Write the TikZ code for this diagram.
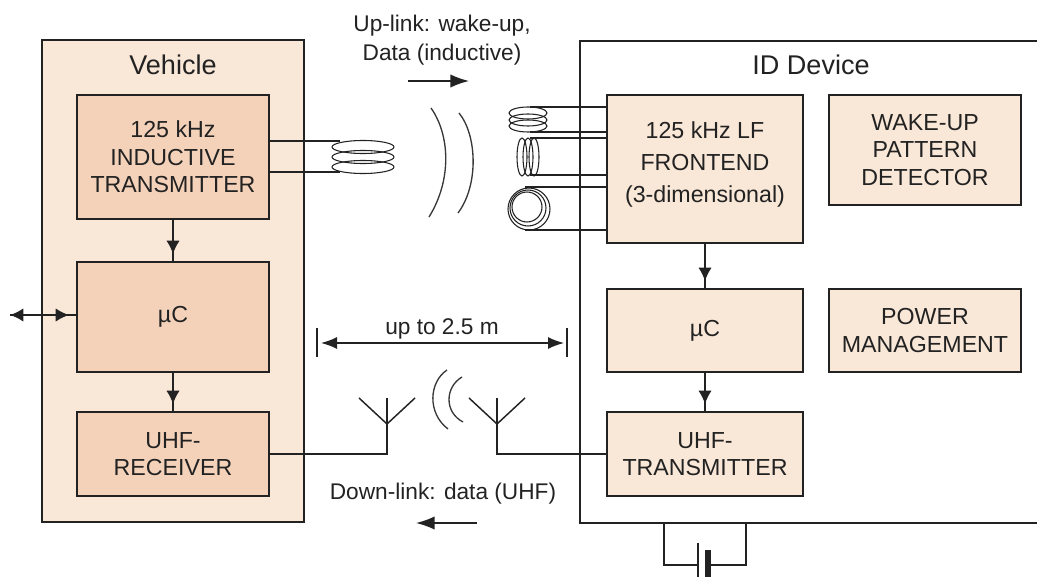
\documentclass[tikz,border=0pt]{standalone}
\usepackage{fontspec}
\setmainfont{Liberation Sans}
\usetikzlibrary{arrows.meta}
\definecolor{pale}{HTML}{F9E7D7}
\definecolor{deep}{HTML}{F4D2BA}
\definecolor{ink}{HTML}{222222}
\tikzset{
  x=0.75pt,y=-0.75pt,
  panel/.style={draw=ink,line width=1.3pt},
  blocksize/.style 2 args={minimum width=#1*0.75pt,minimum height=#2*0.75pt},
  blockdeep/.style={draw=ink,fill=deep,line width=1.3pt,anchor=north west,inner sep=0pt,outer sep=0pt,align=center,text=ink,font=\fontsize{17.4}{20.5}\selectfont},
  blockpale/.style={draw=ink,fill=pale,line width=1.3pt,anchor=north west,inner sep=0pt,outer sep=0pt,align=center,text=ink,font=\fontsize{17.4}{20.5}\selectfont},
  wire/.style={draw=ink,line width=1.1pt},
  flow/.style={wire,postaction={draw=ink,-{Latex[length=10pt,width=10pt]},shorten >=6pt}},
  bigflow/.style={wire,-{Latex[length=14pt,width=10pt]}},
  coil/.style={draw=ink,line width=0.8pt},
  wave/.style={draw=ink!90,line width=1pt},
  label/.style={text=ink,align=center,font=\fontsize{17}{21.5}\selectfont,inner sep=0pt},
  title/.style={text=ink,align=center,font=\fontsize{20.3}{24}\selectfont,inner sep=0pt}
}
\begin{document}
\begin{tikzpicture}
\useasboundingbox (0,0) rectangle (1037,577);
% panels
\fill[pale] (42,40) rectangle (304,522);
\draw[panel] (42,40) rectangle (304,522);
\draw[panel] (1037,41) -- (580,41) -- (580,523) -- (1037,523);
\node[title] (veh) at (173,65) {Vehicle};
\node[title] (idd) at (811,65) {ID Device};
% named points
\coordinate (ext) at (10,315);
\coordinate (c1a) at (340,141); \coordinate (c1b) at (340,172);
\coordinate (ta) at (530,107); \coordinate (tb) at (530,132);
\coordinate (ma) at (530,138); \coordinate (mb) at (530,175);
\coordinate (ba) at (525,187); \coordinate (bb) at (525,230);
\coordinate (al) at (387,424); \coordinate (ar) at (497,424);
\coordinate (bl) at (664,523); \coordinate (br) at (746,523);
\coordinate (pl) at (698,565); \coordinate (pr) at (708,565);
% wires behind the blocks
\draw[wire] (269,141) -- (c1a);
\draw[wire] (269,172) -- (c1b);
\foreach \p/\y in {ta/107,tb/132,ma/138,mb/175,ba/187,bb/230}{
  \draw[wire] (\p) -- (607,\y);
}
\draw[wire] (269,454) -| (al);
\draw[wire] (607,454) -| (ar);
% blocks
\node[blockdeep,blocksize={192}{124}] (tx) at (77,95) {125 kHz\\INDUCTIVE\\TRANSMITTER};
\node[blockdeep,blocksize={192}{110}] (uc1) at (77,262) {µC};
\node[blockdeep,blocksize={192}{84}] (rx) at (77,412) {UHF-\\RECEIVER};
\node[blockpale,blocksize={196}{148},font=\fontsize{17.4}{24}\selectfont] (lf) at (607,95) {125 kHz LF\\FRONTEND\\(3-dimensional)\\[-13pt]\mbox{}};
\node[blockpale,blocksize={192}{110}] (wk) at (829,95) {WAKE-UP\\PATTERN\\DETECTOR};
\node[blockpale,blocksize={196}{83}] (uc2) at (607,289) {µC};
\node[blockpale,blocksize={192}{83}] (pm) at (829,289) {POWER\\MANAGEMENT};
\node[blockpale,blocksize={196}{84}] (utx) at (607,412) {UHF-\\TRANSMITTER};
% flows
\draw[flow] (tx) -- (uc1);
\draw[flow] (uc1) -- (rx);
\draw[flow] (lf) -- (uc2);
\draw[flow] (uc2) -- (utx);
\draw[flow,{Latex[length=10pt,width=10pt]}-] (ext) -- (uc1.west |- ext);
% coils
\foreach \y in {147,157,167}{\draw[coil] (363,\y) ellipse [x radius=31,y radius=6.5];}
\foreach \y in {113,120,126}{\draw[coil] (528,\y) ellipse [x radius=19,y radius=6];}
\foreach \x in {522,528,534}{\draw[coil] (\x,157) ellipse [x radius=5,y radius=19];}
\draw[coil] (527,207) circle [radius=15];
\draw[coil] (528,208) circle [radius=18];
\draw[coil] (529,209) circle [radius=21];
% inductive waves
\draw[wave] (431,108) .. controls (450,135) and (452,180) .. (429,217);
\draw[wave] (459,113) .. controls (477,135) and (479,185) .. (458,213);
% antennas
\draw[wire] (al) -- (387,398);
\draw[wire] (al) -- (359,398);
\draw[wire] (al) -- (415,398);
\draw[wire] (ar) -- (497,398);
\draw[wire] (ar) -- (469,398);
\draw[wire] (ar) -- (525,398);
\draw[wave] (447,370) .. controls (429,382) and (427,413) .. (448,429);
\draw[wave] (462,377) .. controls (445,387) and (444,412) .. (463,422);
% range
\coordinate (dl) at (321,343); \coordinate (dr) at (564,343);
\draw[wire] (317,328) -- (317,357);
\draw[wire] (567,328) -- (567,357);
\draw[wire,{Latex[length=12pt,width=9pt]}-{Latex[length=12pt,width=9pt]}] (dl) -- (dr);
\node[label] (range) at (442,329) {up to 2.5 m};
% link labels
\node[label] (up) at (442,40) {Up-link: wake-up,\\Data (inductive)};
\node[label] (down) at (443,494) {Down-link: data (UHF)};
\coordinate (ua) at (408,81); \coordinate (ub) at (469,81);
\coordinate (da) at (477,523); \coordinate (db) at (416,523);
\draw[bigflow] (ua) -- (ub);
\draw[bigflow] (da) -- (db);
% battery
\draw[wire] (bl) |- (pl);
\draw[wire] (br) |- (pr);
\draw[draw=ink,line width=1.1pt] (698,543) -- (698,577);
\fill[ink] (705,550) rectangle (711,577);
\end{tikzpicture}
\end{document}
